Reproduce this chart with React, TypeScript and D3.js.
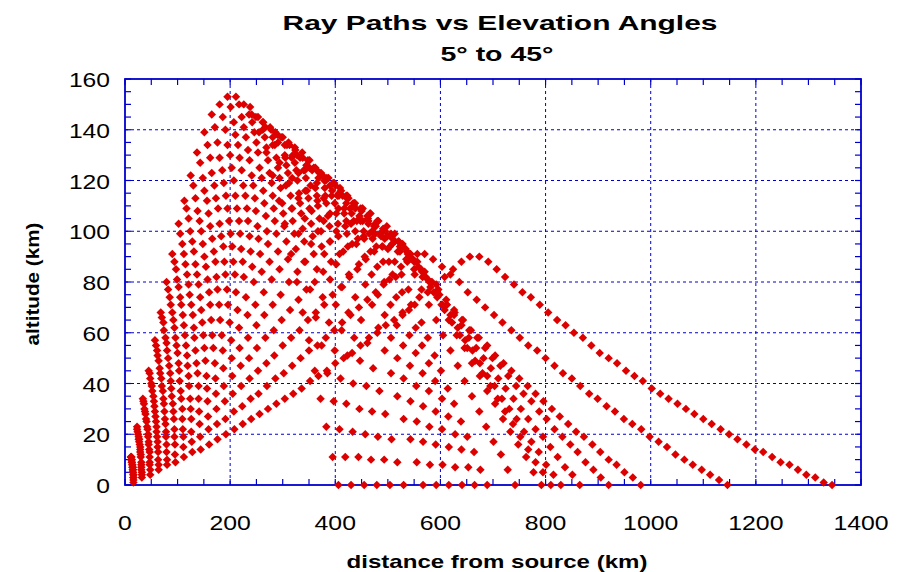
import React from "react";
import * as d3 from "d3";

// Launch elevation angles of the traced rays (degrees)
const elevationAngles = [5, 7, 9, 11, 13, 15, 17, 19, 21, 23, 25, 27, 29, 31, 33, 35, 37, 39, 41, 43, 45];

// Ray samples at equal travel-time steps: [distance from source (km), altitude (km)]
const ray05 = [[16,1],[32,3],[48,4],[64,6],[80,8],[96,9],[112,11],[128,13],[144,14],[160,16],[176,18],[192,20],[208,22],[224,24],[240,26],[256,28],[272,30],[288,32],[304,34],[320,36],[336,38],[352,41],[368,43],[384,45],[400,48],[416,50],[432,52],[448,55],[464,58],[480,60],[496,63],[512,65],[528,68],[544,71],[560,74],[576,76],[592,79],[608,82],[624,85],[640,88],[656,90],[674,90],[691,88],[707,85],[723,82],[740,79],[756,76],[772,74],[789,71],[805,68],[822,65],[838,63],[854,60],[871,58],[887,55],[903,52],[920,50],[936,48],[953,45],[969,43],[985,41],[1002,38],[1018,36],[1034,34],[1051,32],[1067,30],[1083,28],[1100,26],[1116,24],[1133,22],[1149,20],[1165,18],[1182,16],[1198,14],[1214,13],[1231,11],[1247,9],[1264,8],[1280,6],[1296,4],[1313,3],[1329,1],[1345,0]];
const ray07 = [[16,2],[32,4],[48,6],[64,8],[80,10],[95,12],[111,15],[127,17],[143,19],[159,22],[175,24],[191,26],[207,29],[223,31],[239,34],[254,36],[270,39],[286,42],[302,44],[318,47],[334,50],[350,53],[366,55],[382,58],[398,61],[413,64],[429,67],[445,70],[461,73],[477,76],[493,80],[509,83],[525,86],[541,89],[556,91],[570,91],[586,89],[603,86],[619,83],[636,80],[652,76],[669,73],[685,70],[702,67],[718,64],[735,61],[751,58],[767,55],[784,53],[800,50],[817,47],[833,44],[850,42],[866,39],[883,36],[899,34],[916,31],[932,29],[949,26],[965,24],[982,22],[998,19],[1015,17],[1031,15],[1047,12],[1064,10],[1080,8],[1097,6],[1113,4],[1130,2],[1146,0]];
const ray09 = [[16,3],[32,5],[47,8],[63,10],[79,13],[95,16],[111,19],[126,21],[142,24],[158,27],[174,30],[190,33],[205,36],[221,39],[237,42],[253,45],[269,48],[284,51],[300,55],[316,58],[332,61],[348,65],[363,68],[379,71],[395,75],[411,78],[427,82],[442,85],[458,89],[474,92],[490,94],[504,94],[519,92],[535,89],[550,85],[566,82],[581,78],[596,75],[612,71],[627,68],[643,65],[658,61],[673,58],[689,55],[704,51],[720,48],[735,45],[750,42],[766,39],[781,36],[796,33],[812,30],[827,27],[843,24],[858,21],[873,19],[889,16],[904,13],[920,10],[935,8],[950,5],[966,3],[981,0]];
const ray11 = [[16,3],[31,6],[47,9],[63,13],[79,16],[94,19],[110,22],[126,26],[141,29],[157,33],[173,36],[188,39],[204,43],[220,47],[236,50],[251,54],[267,58],[283,61],[298,65],[314,69],[330,73],[345,77],[361,80],[377,84],[392,88],[408,91],[424,94],[440,95],[455,97],[471,97],[494,97],[508,95],[523,94],[538,91],[552,88],[567,84],[582,80],[596,77],[611,73],[626,69],[641,65],[655,61],[670,58],[685,54],[699,50],[714,47],[729,43],[744,39],[758,36],[773,33],[788,29],[802,26],[817,22],[832,19],[847,16],[861,13],[876,9],[891,6],[905,3],[920,0]];
const ray13 = [[16,4],[31,7],[47,11],[62,15],[78,19],[94,22],[109,26],[125,30],[140,34],[156,38],[172,42],[187,46],[203,50],[218,54],[234,58],[250,63],[265,67],[281,71],[296,75],[312,80],[328,84],[343,88],[359,91],[374,94],[390,96],[406,98],[422,99],[438,100],[454,100],[470,100],[485,99],[499,98],[513,96],[528,94],[542,91],[556,88],[570,84],[584,80],[598,75],[612,71],[626,67],[640,63],[654,58],[668,54],[682,50],[696,46],[710,42],[724,38],[739,34],[753,30],[767,26],[781,22],[795,19],[809,15],[823,11],[837,7],[851,4],[865,0]];
const ray15 = [[16,4],[31,8],[47,13],[62,17],[78,21],[93,26],[109,30],[124,34],[140,39],[155,43],[171,48],[186,53],[202,57],[217,62],[233,67],[248,71],[264,76],[279,81],[294,85],[310,89],[325,93],[341,96],[357,98],[373,100],[389,102],[405,103],[421,104],[435,104],[448,104],[463,103],[477,102],[491,100],[506,98],[520,96],[534,93],[548,89],[563,85],[576,81],[590,76],[604,71],[619,67],[633,62],[647,57],[661,53],[675,48],[689,43],[703,39],[717,34],[731,30],[745,26],[759,21],[773,17],[787,13],[801,8],[815,4],[829,0]];
const ray17 = [[15,5],[31,9],[46,14],[61,19],[77,24],[92,29],[107,34],[122,39],[138,44],[153,49],[168,54],[184,59],[199,64],[214,69],[230,74],[245,80],[260,84],[275,88],[291,92],[307,96],[322,99],[338,101],[354,103],[370,105],[386,106],[402,107],[417,107],[431,107],[446,106],[462,105],[476,103],[491,101],[506,99],[521,96],[536,92],[550,88],[565,84],[579,80],[594,74],[608,69],[622,64],[637,59],[651,54],[666,49],[680,44],[695,39],[709,34],[723,29],[738,24],[752,19],[767,14],[781,9],[795,5],[810,0]];
const ray19 = [[15,5],[30,11],[45,16],[60,21],[76,26],[91,32],[106,37],[121,43],[136,48],[151,54],[166,59],[181,65],[196,71],[211,76],[226,82],[242,86],[257,91],[272,95],[288,99],[303,102],[319,104],[335,107],[351,109],[367,110],[383,111],[399,111],[421,111],[436,110],[452,109],[467,107],[482,104],[498,102],[513,99],[528,95],[543,91],[558,86],[572,82],[587,76],[602,71],[616,65],[631,59],[646,54],[660,48],[675,43],[689,37],[704,32],[719,26],[733,21],[748,16],[763,11],[777,5],[792,0]];
const ray21 = [[15,6],[30,12],[45,17],[60,23],[75,29],[89,35],[104,41],[119,47],[134,53],[149,59],[164,65],[179,71],[194,77],[209,83],[224,88],[239,92],[254,97],[270,100],[285,104],[301,107],[317,109],[333,111],[349,113],[365,114],[381,114],[407,114],[422,113],[437,111],[451,109],[466,107],[480,104],[495,100],[509,97],[523,92],[537,88],[551,83],[564,77],[578,71],[592,65],[605,59],[619,53],[633,47],[646,41],[660,35],[674,29],[687,23],[701,17],[715,12],[728,6],[742,0]];
const ray23 = [[15,6],[29,13],[44,19],[59,25],[74,32],[88,38],[103,45],[118,51],[132,58],[147,64],[162,71],[176,77],[191,83],[206,88],[221,93],[237,98],[252,102],[268,106],[283,109],[299,111],[315,114],[331,115],[346,116],[362,117],[380,117],[394,116],[407,115],[421,114],[434,111],[448,109],[461,106],[474,102],[487,98],[500,93],[513,88],[526,83],[539,77],[551,71],[564,64],[576,58],[589,51],[601,45],[614,38],[626,32],[639,25],[651,19],[664,13],[676,6],[689,0]];
const ray25 = [[15,7],[29,14],[44,20],[58,27],[73,34],[87,41],[102,48],[116,55],[131,62],[145,69],[160,76],[174,82],[189,88],[204,94],[219,99],[234,104],[249,108],[265,111],[281,114],[296,117],[312,119],[328,120],[344,121],[368,121],[382,120],[396,119],[409,117],[423,114],[437,111],[450,108],[463,104],[476,99],[489,94],[502,88],[515,82],[527,76],[540,69],[553,62],[565,55],[578,48],[590,41],[603,34],[615,27],[628,20],[640,14],[653,7],[665,0]];
const ray27 = [[14,7],[29,15],[43,22],[57,29],[72,37],[86,44],[100,52],[114,59],[129,67],[143,74],[157,81],[172,88],[187,94],[201,99],[217,104],[232,109],[247,113],[263,116],[279,119],[294,121],[310,123],[326,124],[342,124],[356,124],[370,123],[384,121],[398,119],[411,116],[425,113],[438,109],[452,104],[465,99],[478,94],[491,88],[503,81],[516,74],[528,67],[541,59],[553,52],[566,44],[578,37],[591,29],[603,22],[616,15],[628,7],[641,0]];
const ray29 = [[14,8],[28,16],[42,23],[56,31],[70,39],[84,47],[98,55],[112,63],[126,71],[140,79],[154,86],[169,92],[183,98],[198,104],[213,109],[229,114],[244,118],[260,121],[275,123],[291,125],[307,126],[323,127],[345,126],[359,125],[373,123],[387,121],[400,118],[414,114],[428,109],[441,104],[454,98],[467,92],[480,86],[492,79],[505,71],[517,63],[529,55],[542,47],[554,39],[567,31],[579,23],[591,16],[604,8],[616,0]];
const ray31 = [[14,8],[27,17],[41,25],[55,33],[69,42],[82,50],[96,58],[110,67],[123,75],[137,83],[151,90],[166,97],[180,103],[195,109],[210,114],[225,118],[241,122],[256,125],[272,128],[288,129],[304,130],[319,130],[333,129],[348,128],[362,125],[376,122],[390,118],[404,114],[417,109],[430,103],[443,97],[456,90],[469,83],[481,75],[494,67],[506,58],[518,50],[530,42],[543,33],[555,25],[567,17],[580,8],[592,0]];
const ray33 = [[13,9],[27,18],[40,26],[54,35],[67,44],[80,53],[94,62],[107,71],[121,79],[134,87],[148,95],[162,102],[177,109],[192,114],[207,120],[222,124],[237,128],[253,131],[269,133],[285,134],[308,134],[323,133],[337,131],[351,128],[365,124],[379,120],[393,114],[406,109],[419,102],[432,95],[445,87],[457,79],[470,71],[482,62],[494,53],[506,44],[518,35],[530,26],[543,18],[555,9],[567,0]];
const ray35 = [[13,9],[26,18],[39,28],[52,37],[66,46],[79,56],[92,65],[105,74],[118,83],[131,92],[145,100],[159,107],[173,113],[188,119],[203,125],[218,129],[234,132],[250,135],[266,137],[281,137],[297,137],[311,135],[324,132],[338,129],[351,125],[365,119],[378,113],[390,107],[402,100],[415,92],[426,83],[438,74],[449,65],[461,56],[472,46],[484,37],[495,28],[507,18],[518,9],[530,0]];
const ray37 = [[13,10],[26,19],[38,29],[51,39],[64,49],[77,58],[90,68],[102,78],[115,87],[128,96],[142,104],[156,112],[170,118],[185,124],[200,130],[215,134],[230,137],[246,139],[262,140],[286,139],[300,137],[313,134],[327,130],[340,124],[353,118],[366,112],[378,104],[390,96],[402,87],[413,78],[425,68],[436,58],[447,49],[459,39],[470,29],[481,19],[493,10],[504,0]];
const ray39 = [[12,10],[25,20],[37,30],[50,40],[62,51],[74,61],[87,71],[99,81],[112,91],[124,100],[138,108],[151,116],[165,123],[180,129],[195,134],[210,138],[226,141],[242,143],[262,143],[276,141],[290,138],[304,134],[317,129],[330,123],[343,116],[355,108],[367,100],[379,91],[390,81],[401,71],[412,61],[423,51],[434,40],[446,30],[457,20],[468,10],[479,0]];
const ray41 = [[12,11],[24,21],[36,32],[48,42],[61,53],[73,64],[85,74],[97,85],[109,95],[121,105],[134,113],[148,121],[162,129],[176,135],[191,140],[207,143],[222,145],[236,146],[249,145],[263,143],[278,140],[291,135],[305,129],[318,121],[330,113],[342,105],[354,95],[365,85],[376,74],[388,64],[399,53],[410,42],[421,32],[433,21],[444,11],[455,0]];
const ray43 = [[12,11],[23,22],[35,33],[47,44],[59,55],[70,66],[82,77],[94,88],[105,99],[117,109],[130,118],[143,127],[157,134],[171,141],[186,145],[201,149],[217,150],[238,149],[253,145],[267,141],[281,134],[294,127],[306,118],[318,109],[330,99],[341,88],[352,77],[363,66],[374,55],[385,44],[397,33],[408,22],[419,11],[430,0]];
const ray45 = [[11,11],[23,23],[34,34],[45,45],[57,57],[68,68],[79,80],[90,91],[102,103],[113,112],[125,122],[137,131],[151,139],[165,146],[180,150],[195,153],[211,153],[226,150],[241,146],[255,139],[269,131],[281,122],[293,112],[304,103],[316,91],[327,80],[338,68],[350,57],[361,45],[372,34],[383,23],[395,11],[406,0]];

const rayPoints = [ray05, ray07, ray09, ray11, ray13, ray15, ray17, ray19, ray21, ray23, ray25, ray27, ray29, ray31, ray33, ray35, ray37, ray39, ray41, ray43, ray45];

// Axis ticks
const xTickValues = [0, 200, 400, 600, 800, 1000, 1200, 1400];
const yTickValues = [0, 20, 40, 60, 80, 100, 120, 140, 160];
const xMinorStep = 50;
const yMinorStep = 5;

const titleLines = ["Ray  Paths  vs  Elevation  Angles", "5°  to  45°"];
const xAxisTitle = "distance from source (km)";
const yAxisTitle = "altitude (km)";

const W = 897;
const H = 572;
const PLOT = { left: 125, right: 861, top: 79, bottom: 485 };
const BLUE = "#0000cc";
const RED = "#dd0000";
const FONT = "'Liberation Sans', Arial, Helvetica, sans-serif";

export default function App() {
  const x = d3.scaleLinear().domain([0, 1400]).range([PLOT.left, PLOT.right]);
  const y = d3.scaleLinear().domain([0, 160]).range([PLOT.bottom, PLOT.top]);

  // diamond marker: a square turned by 45 degrees
  const marker = d3.symbol().type(d3.symbolSquare).size(36)() || "";

  const xMinor = d3.range(0, 1400 + 1, xMinorStep);
  const yMinor = d3.range(0, 160 + 1, yMinorStep);

  const rays = elevationAngles.map((angle, i) => ({ angle, points: rayPoints[i] }));

  const tick = 6;

  return (
    <svg
      width={W}
      height={H}
      viewBox={`0 0 ${W} ${H}`}
      style={{ position: "absolute", left: 0, top: 0, background: "#fff" }}
      fontFamily={FONT}
    >
      <rect x={0} y={0} width={W} height={H} fill="#fff" />

      {/* title */}
      <text x={500} y={30} textAnchor="middle" fontSize={21} fontWeight="bold" fill="#000"
        textLength={435} lengthAdjust="spacingAndGlyphs">{titleLines[0]}</text>
      <text x={497} y={61} textAnchor="middle" fontSize={21} fontWeight="bold" fill="#000"
        textLength={113} lengthAdjust="spacingAndGlyphs">{titleLines[1]}</text>

      {/* dashed grid */}
      <g stroke={BLUE} strokeWidth={1} strokeDasharray="3,3">
        {xTickValues.filter((v) => v > 0 && v < 1400).map((v) => (
          <line key={`gx${v}`} x1={x(v)} x2={x(v)} y1={PLOT.top} y2={PLOT.bottom} />
        ))}
        {yTickValues.filter((v) => v > 0 && v < 160).map((v) => (
          <line key={`gy${v}`} x1={PLOT.left} x2={PLOT.right} y1={y(v)} y2={y(v)} />
        ))}
      </g>

      {/* inward ticks on all sides */}
      <g stroke={BLUE} strokeWidth={1.2}>
        {xMinor.map((v) => (
          <g key={`tx${v}`}>
            <line x1={x(v)} x2={x(v)} y1={PLOT.bottom} y2={PLOT.bottom - tick} />
            <line x1={x(v)} x2={x(v)} y1={PLOT.top} y2={PLOT.top + tick} />
          </g>
        ))}
        {yMinor.map((v) => (
          <g key={`ty${v}`}>
            <line x1={PLOT.left} x2={PLOT.left + tick} y1={y(v)} y2={y(v)} />
            <line x1={PLOT.right} x2={PLOT.right - tick} y1={y(v)} y2={y(v)} />
          </g>
        ))}
      </g>

      {/* frame */}
      <rect x={PLOT.left} y={PLOT.top} width={PLOT.right - PLOT.left} height={PLOT.bottom - PLOT.top}
        fill="none" stroke={BLUE} strokeWidth={1.8} />

      {/* ray markers */}
      <g fill={RED}>
        {rays.map((r) => (
          <g key={`ray${r.angle}`}>
            {r.points.map((p, j) => (
              <path key={j} d={marker} transform={`translate(${x(p[0])},${y(p[1])}) rotate(45)`} />
            ))}
          </g>
        ))}
      </g>

      {/* tick labels */}
      <g fontSize={20} fill="#000">
        {xTickValues.map((v) => {
          const s = String(v);
          return (
            <text key={`lx${v}`} x={x(v)} y={530} textAnchor="middle"
              textLength={s.length * 13.8} lengthAdjust="spacingAndGlyphs">{s}</text>
          );
        })}
        {yTickValues.map((v) => {
          const s = String(v);
          return (
            <text key={`ly${v}`} x={110} y={y(v) + 8} textAnchor="end"
              textLength={s.length * 13.7} lengthAdjust="spacingAndGlyphs">{s}</text>
          );
        })}
      </g>

      {/* axis titles */}
      <text x={497} y={568} textAnchor="middle" fontSize={19} fontWeight="bold" fill="#000"
        textLength={301} lengthAdjust="spacingAndGlyphs">{xAxisTitle}</text>
      <text transform="translate(39,284) rotate(-90)" textAnchor="middle" fontSize={19} fontWeight="bold" fill="#000"
        textLength={123} lengthAdjust="spacingAndGlyphs">{yAxisTitle}</text>
    </svg>
  );
}
